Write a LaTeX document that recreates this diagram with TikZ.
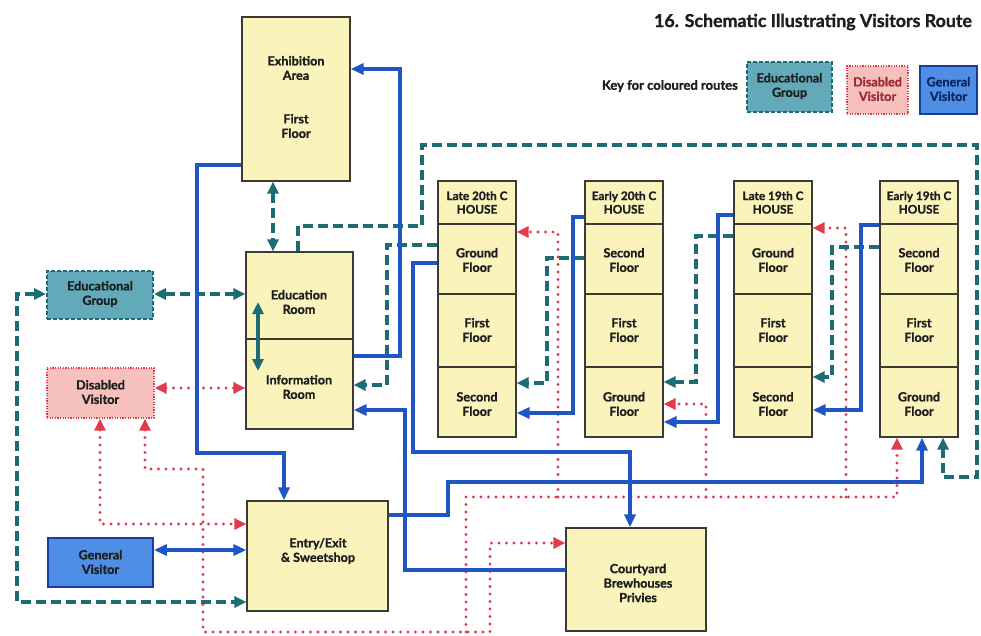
\documentclass[tikz,border=0pt]{standalone}
\usepackage{fontspec}
\setmainfont{Lato}[BoldFeatures={FakeBold=1.2}]
\usetikzlibrary{arrows.meta,calc}
\definecolor{genblue}{RGB}{31,86,196}
\definecolor{edut}{RGB}{29,107,115}
\definecolor{disred}{RGB}{226,60,76}
\definecolor{boxfill}{RGB}{250,243,188}
\definecolor{boxline}{RGB}{60,60,55}
\definecolor{edufill}{RGB}{98,170,186}
\definecolor{disfill}{RGB}{246,192,188}
\definecolor{genfill}{RGB}{78,142,228}
\definecolor{genline}{RGB}{22,62,160}
\definecolor{txt}{RGB}{30,30,30}
\begin{document}
\begin{tikzpicture}[x=1pt,y=-1pt,
  box/.style={draw=boxline,fill=boxfill,line width=1.3pt,inner sep=0pt},
  lbl/.style={font=\fontsize{12.6}{14.5}\selectfont\bfseries,align=center,text=txt,inner sep=0pt},
  hlbl/.style={font=\fontsize{11.8}{13.5}\selectfont\bfseries,align=center,text=txt,inner sep=0pt},
  gen/.style={draw=genblue,line width=3.6pt},
  edu/.style={draw=edut,line width=3.4pt,dash pattern=on 10pt off 5pt},
  dis/.style={draw=disred,line width=3.3pt,dash pattern=on 0pt off 7.5pt,line cap=round},
  gt/.tip={Triangle[length=13pt,width=11pt]},
  et/.tip={Triangle[length=12pt,width=11pt]},
  dt/.tip={Triangle[length=12pt,width=11pt]},
]
\useasboundingbox (0,0) rectangle (981,635);
\fill[white] (0,0) rectangle (981,635);

% title and key
\node[font=\fontsize{17.8}{20}\selectfont\bfseries,text=txt,anchor=east,inner sep=0pt] (title) at (972,22) {16. Schematic Illustrating Visitors Route};
\node[font=\fontsize{13}{14}\selectfont\bfseries,text=txt,anchor=east,inner sep=0pt] (keyt) at (738,86) {Key for coloured routes};
\node[draw=edut,fill=edufill,line width=2pt,dash pattern=on 4pt off 2pt,minimum width=85pt,minimum height=50pt,inner sep=0pt] (edk) at (789.5,87) {};
\node[lbl] (edkt) at (789.5,86) {Educational\\Group};
\node[draw=disred,fill=disfill,line width=1.4pt,dash pattern=on 1.2pt off 1.4pt,minimum width=61pt,minimum height=48pt,inner sep=0pt] (dik) at (877.5,90) {};
\node[lbl,text=disred!70!black] (dikt) at (877.5,89) {Disabled\\Visitor};
\node[draw=genline,fill=genfill,line width=1.8pt,minimum width=57pt,minimum height=48pt,inner sep=0pt] (gek) at (948.5,90) {};
\node[lbl,text=genline!60!black] (gekt) at (948.5,89) {General\\Visitor};

% main boxes
\node[box,minimum width=108pt,minimum height=164pt] (exh) at (296,99) {};
\node[lbl] (exha) at (296,68) {Exhibition\\Area};
\node[lbl] (exhb) at (296,126) {First\\Floor};

\node[box,minimum width=107pt,minimum height=87pt] (edr) at (299.5,295.5) {};
\node[lbl] (edrt) at (299,302) {Education\\Room};
\node[box,minimum width=107pt,minimum height=90pt] (info) at (299.5,384) {};
\node[lbl] (infot) at (299,387) {Information\\Room};

\node[box,minimum width=141pt,minimum height=110pt] (entry) at (317.5,556) {};
\node[lbl] (entryt) at (318,551) {Entry/Exit\\\& Sweetshop};

\node[box,minimum width=140pt,minimum height=103pt] (court) at (636,579.5) {};
\node[lbl] (courtt) at (638,583) {Courtyard\\Brewhouses\\Privies};

\node[draw=edut,fill=edufill,line width=2pt,dash pattern=on 4pt off 2pt,minimum width=106pt,minimum height=48pt,inner sep=0pt] (edg) at (100,295) {};
\node[lbl] (edgt) at (100,294) {Educational\\Group};
\node[draw=disred,fill=disfill,line width=1.4pt,dash pattern=on 1.2pt off 1.4pt,minimum width=107pt,minimum height=50pt,inner sep=0pt] (dis) at (100.5,393) {};
\node[lbl] (dist) at (100.5,392) {Disabled\\Visitor};
\node[draw=genline,fill=genfill,line width=1.8pt,minimum width=105pt,minimum height=49pt,inner sep=0pt] (gv) at (100.5,562.5) {};
\node[lbl] (gvt) at (100.5,562) {General\\Visitor};

% houses
\foreach \n/\cx/\hd/\fa/\fc in {l20/477/Late 20th C/Ground/Second, e20/624/Early 20th C/Second/Ground, l19/773/Late 19th C/Ground/Second, e19/919/Early 19th C/Second/Ground}{
  \node[box,minimum width=78pt,minimum height=43pt] (\n-h) at (\cx,202.5) {};
  \node[hlbl] (\n-ht) at (\cx,202.5) {\hd\\HOUSE};
  \node[box,minimum width=78pt,minimum height=70pt] (\n-a) at (\cx,259) {};
  \node[lbl] (\n-at) at (\cx,260) {\fa\\Floor};
  \node[box,minimum width=78pt,minimum height=73pt] (\n-b) at (\cx,330.5) {};
  \node[lbl] (\n-bt) at (\cx,330) {First\\Floor};
  \node[box,minimum width=78pt,minimum height=70pt] (\n-c) at (\cx,402) {};
  \node[lbl] (\n-ct) at (\cx,404) {\fc\\Floor};
}

% junction coordinates
\coordinate (rj1) at (466,632);
\coordinate (rj2) at (558,497);
\coordinate (rj3) at (706,497);
\coordinate (rj4) at (846,497);
\coordinate (t3a) at (258,302);
\coordinate (t3b) at (258,371);

% ---- disabled (red dotted) routes
\draw[dis,dt-dt] (dis.east|-0,388) -- (info.west|-0,388);
\draw[dis,dt-dt] (dis.south-|100,0) -- (100,524) -- (entry.west|-0,524);
\draw[dis,dt-dt] (dis.south-|145,0) -- (145,469) -- (203,469) -- (203,632) -- (490,632) -- (490,543) -- (court.west|-0,543);
\draw[dis,-dt] (rj1) -- (466,497) -- (897,497) -- (e19-c.south-|897,0);
\draw[dis,-dt] (rj2) -- (558,232) -- (l20-a.east|-0,232);
\draw[dis,-dt] (rj3) -- (706,404) -- (e20-c.east|-0,404);
\draw[dis,-dt] (rj4) -- (846,228) -- (l19-a.east|-0,228);

% ---- educational (teal dashed) routes
\draw[edu,et-et] (edg.east|-0,294) -- (edr.west|-0,294);
\draw[edu,et-et] (exh.south-|273,0) -- (edr.north-|273,0);
\draw[draw=edut,line width=3.4pt,et-et] (t3a) -- (t3b);
\draw[edu,-et] (edr.north-|298,0) -- (298,226) -- (422,226) -- (422,145) -- (977,145) -- (977,477) -- (943,477) -- (e19-c.south-|943,0);
\draw[edu,-et] (e19-a.west|-0,247) -- (832,247) -- (832,377) -- (l19-c.east|-0,377);
\draw[edu,-et] (l19-a.west|-0,236) -- (696,236) -- (696,382) -- (e20-c.east|-0,382);
\draw[edu,-et] (e20-a.west|-0,258) -- (547,258) -- (547,383) -- (l20-c.east|-0,383);
\draw[edu,-et] (l20-a.west|-0,245) -- (387,245) -- (387,385) -- (info.east|-0,385);
\draw[edu,et-et] (edg.west|-0,294) -- (17,294) -- (17,602) -- (entry.west|-0,602);

% ---- general (blue) routes
\draw[gen,gt-gt] (gv.east|-0,550) -- (entry.west|-0,550);
\draw[gen,-gt] (exh.west|-0,165) -- (197,165) -- (197,453) -- (284,453) -- (entry.north-|284,0);
\draw[gen,-gt] (info.east|-0,356) -- (400,356) -- (400,69) -- (exh.east|-0,69);
\draw[gen,-gt] (court.west|-0,570) -- (405,570) -- (405,410) -- (info.east|-0,410);
\draw[gen,-gt] (l20-a.west|-0,263) -- (413,263) -- (413,452) -- (630,452) -- (court.north-|630,0);
\draw[gen,-gt] (entry.east|-0,515) -- (448,515) -- (448,482) -- (922,482) -- (e19-c.south-|922,0);
\draw[gen,-gt] (e20-h.west|-0,217) -- (573,217) -- (573,413) -- (l20-c.east|-0,413);
\draw[gen,-gt] (l19-h.west|-0,215) -- (718,215) -- (718,422) -- (e20-c.east|-0,422);
\draw[gen,-gt] (e19-h.west|-0,225) -- (861,225) -- (861,410) -- (l19-c.east|-0,410);
\end{tikzpicture}
\end{document}
